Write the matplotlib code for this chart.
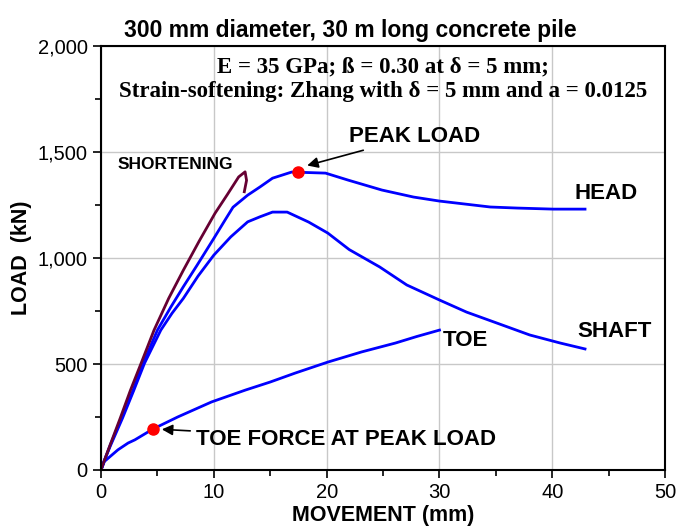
import matplotlib.pyplot as plt
from matplotlib.ticker import FuncFormatter, MultipleLocator

plt.rcParams['font.family'] = ['Liberation Sans', 'DejaVu Sans']

# movement (mm) / load (kN)
head_x = [0, 0.3, 0.8, 1.8, 2.8, 3.7, 5.0, 6.2, 7.3, 8.5, 10.0, 11.0, 11.7, 13.0, 14.1, 15.2, 16.9, 17.5, 19.9, 21.9, 24.9, 27.7, 30.0, 34.5, 36.9, 40.1, 42.9]
head_y = [0, 45, 115, 245, 370, 500, 660, 770, 865, 965, 1093, 1180, 1240, 1297, 1336, 1377, 1406, 1405, 1401, 1368, 1321, 1288, 1269, 1241, 1236, 1231, 1231]

shaft_x = [0, 0.3, 0.8, 1.9, 2.9, 3.85, 5.3, 6.3, 7.3, 8.6, 10.0, 11.5, 13.0, 14.1, 15.2, 16.5, 18.4, 20.1, 22.0, 24.7, 27.1, 30.0, 32.4, 35.1, 38.0, 40.7, 42.9]
shaft_y = [0, 45, 110, 244, 375, 503, 660, 740, 810, 915, 1014, 1100, 1171, 1195, 1217, 1217, 1170, 1118, 1040, 958, 873, 802, 745, 693, 637, 599, 571]

short_x = [0, 0.3, 0.75, 1.7, 2.6, 3.55, 4.7, 6.0, 7.3, 8.7, 10.1, 11.2, 12.2, 12.77, 12.9, 12.8, 12.7]
short_y = [0, 45, 110, 244, 375, 503, 660, 810, 943, 1080, 1211, 1300, 1383, 1407, 1367, 1340, 1313]

toe_x = [0, 0.3, 0.8, 1.5, 2.4, 3.0, 4.6, 6.8, 9.8, 12.8, 15.0, 17.2, 20.1, 23.1, 26.1, 28.0, 30.0]
toe_y = [0, 40, 63, 95, 127, 142, 193, 250, 321, 377, 415, 457, 509, 557, 599, 630, 660]

peak_x, peak_y = 17.5, 1405
toe_pk_x, toe_pk_y = 4.6, 193

fig = plt.figure(figsize=(6.78, 5.31), dpi=100)
ax = fig.add_axes([0.149, 0.115, 0.832, 0.798])

blue = '#0000ff'
ax.plot(head_x, head_y, color=blue, lw=2)
ax.plot(shaft_x, shaft_y, color=blue, lw=2)
ax.plot(toe_x, toe_y, color=blue, lw=2)
ax.plot(short_x, short_y, color='#660033', lw=2)
ax.plot([peak_x], [peak_y], 'o', color='red', ms=8, zorder=5)
ax.plot([toe_pk_x], [toe_pk_y], 'o', color='red', ms=8, zorder=5)

ax.set_xlim(0, 50)
ax.set_ylim(0, 2000)
ax.xaxis.set_major_locator(MultipleLocator(10))
ax.xaxis.set_minor_locator(MultipleLocator(5))
ax.yaxis.set_major_locator(MultipleLocator(500))
ax.yaxis.set_minor_locator(MultipleLocator(250))
ax.yaxis.set_major_formatter(FuncFormatter(lambda v, p: f'{int(v):,}'))
ax.grid(True, which='major', color='#c8c8c8', lw=1)
ax.set_axisbelow(True)
ax.tick_params(which='both', direction='out', labelsize=14.5, width=1.2)
ax.tick_params(which='major', length=6)
ax.tick_params(which='minor', length=4)
for s in ax.spines.values():
    s.set_linewidth(1.5)

ax.set_xlabel('MOVEMENT (mm)', fontsize=15.5, fontweight='bold', labelpad=2)
ax.set_ylabel('LOAD  (kN)', fontsize=15.5, fontweight='bold', labelpad=4)
fig.text(0.516, 0.943, '300 mm diameter, 30 m long concrete pile', fontsize=16.5,
         fontweight='bold', ha='center', va='center')

ax.text(0.5, 0.975, 'E = 35 GPa; ß = 0.30 at δ = 5 mm;\nStrain-softening: Zhang with δ = 5 mm and a = 0.0125',
        transform=ax.transAxes, ha='center', va='top', fontsize=16.5, fontweight='bold',
        family=['Liberation Serif', 'DejaVu Serif'], linespacing=1.2)

ax.text(1.5, 1440, 'SHORTENING', fontsize=12.5, fontweight='bold', va='center')
ax.text(42.0, 1305, 'HEAD', fontsize=16, fontweight='bold', va='center')
ax.text(42.2, 655, 'SHAFT', fontsize=16, fontweight='bold', va='center')
ax.text(30.3, 612, 'TOE', fontsize=16, fontweight='bold', va='center')
ax.annotate('PEAK LOAD', xy=(peak_x + 0.3, peak_y + 25), xytext=(22.0, 1575),
            fontsize=16, fontweight='bold', va='center',
            arrowprops=dict(arrowstyle='-|>', color='black', lw=1.2, shrinkA=2, shrinkB=4))
ax.annotate('TOE FORCE AT PEAK LOAD', xy=(toe_pk_x + 0.3, toe_pk_y), xytext=(8.4, 145),
            fontsize=16, fontweight='bold', va='center',
            arrowprops=dict(arrowstyle='-|>', color='black', lw=1.2, shrinkA=2, shrinkB=4))

fig.savefig('out.png', dpi=100)
